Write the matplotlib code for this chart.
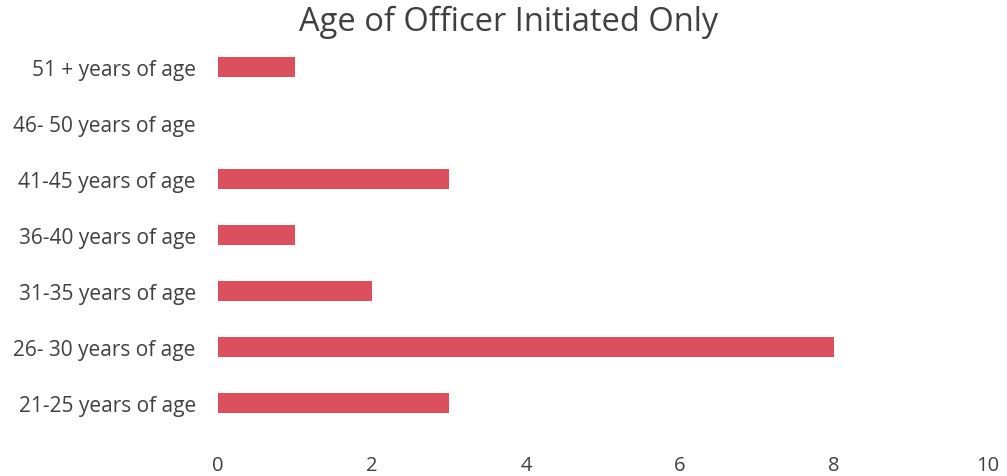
import matplotlib
matplotlib.use("Agg")
import matplotlib.pyplot as plt

categories = ["21-25 years of age", "26- 30 years of age", "31-35 years of age",
              "36-40 years of age", "41-45 years of age", "46- 50 years of age",
              "51 + years of age"]
values = [3, 8, 2, 1, 3, 0, 1]
xticks = [0, 2, 4, 6, 8, 10]

plt.rcParams['font.family'] = ['Open Sans', 'DejaVu Sans']
fig = plt.figure(figsize=(10.07, 4.77), dpi=100)
ax = fig.add_axes([218/1007, 1-432/477, (988-218)/1007, (432-40)/477])
ax.barh(range(len(categories)), values, height=0.34, color="#DC505E")
ax.set_xlim(0, 10)
ax.set_ylim(-0.5, len(categories)-0.5)
ax.set_yticks(range(len(categories)))
ax.set_yticklabels(categories, fontsize=15, color="#404040")
ax.set_xticks(xticks)
ax.set_xticklabels([str(t) for t in xticks], fontsize=14.5, color="#404040")
ax.tick_params(length=0)
ax.tick_params(axis='y', pad=16)
ax.tick_params(axis='x', pad=17)
for s in ax.spines.values():
    s.set_visible(False)
fig.text(509/1007, 1-22/477, "Age of Officer Initiated Only", ha="center", va="center",
         fontsize=23.5, color="#404040")
fig.savefig("out.png", dpi=100)
